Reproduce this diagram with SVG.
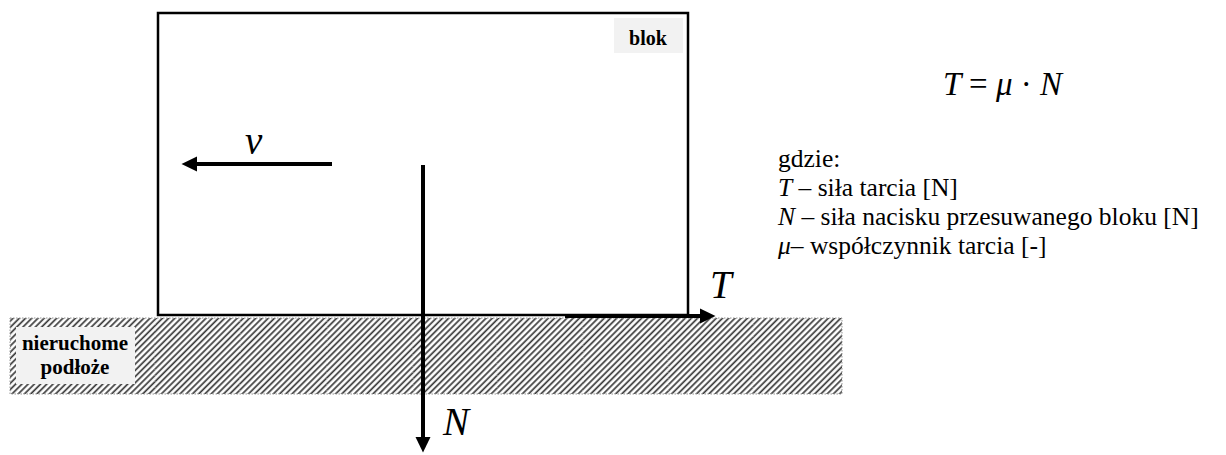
<svg xmlns="http://www.w3.org/2000/svg" width="1226" height="455" viewBox="0 0 1226 455">
<style>
text{font-family:"Times New Roman","Liberation Serif",serif;fill:#000}
.lbl{font-weight:bold}
.math{font-style:italic}
.txt{font-size:25.5px}
.it{font-style:italic}
.arr{stroke:#000;stroke-width:4;fill:none}
</style>
<defs>
<pattern id="hatch" width="4.4" height="4.4" patternUnits="userSpaceOnUse" patternTransform="rotate(45)">
<rect width="4.4" height="4.4" fill="#fff"/>
<line x1="1.1" y1="0" x2="1.1" y2="4.4" stroke="#3a3a3a" stroke-width="1.7"/>
</pattern>
<marker id="ah" markerUnits="userSpaceOnUse" markerWidth="16" markerHeight="16" viewBox="0 0 16 16" refX="1" refY="8" orient="auto">
<path d="M0,0.5 L15.5,8 L0,15.5 z" fill="#000"/>
</marker>
</defs>
<rect width="1226" height="455" fill="#fff"/>
<g id="ground">
<rect x="10" y="318" width="832" height="76" fill="url(#hatch)" stroke="#999" stroke-width="1" stroke-dasharray="1.5 1.5"/>
<g stroke="#ddd" stroke-width="1" stroke-dasharray="1 2" opacity="0.6">
<line x1="155" y1="318" x2="155" y2="394"/><line x1="240" y1="318" x2="240" y2="394"/>
<line x1="327" y1="318" x2="327" y2="394"/><line x1="413" y1="318" x2="413" y2="394"/>
<line x1="497" y1="318" x2="497" y2="394"/><line x1="583" y1="318" x2="583" y2="394"/>
<line x1="668" y1="318" x2="668" y2="394"/><line x1="753" y1="318" x2="753" y2="394"/>
</g>
<rect x="16" y="327" width="119" height="57" fill="#f2f2f2"/>
<text class="lbl" font-size="21" text-anchor="middle" x="75" y="350">nieruchome</text>
<text class="lbl" font-size="21" text-anchor="middle" x="75" y="374">podłoże</text>
</g>
<g id="block">
<rect x="158" y="13" width="530" height="302" fill="none" stroke="#000" stroke-width="2.5"/>
<rect x="614" y="18" width="69" height="35" fill="#f2f2f2"/>
<text class="lbl" font-size="20" text-anchor="middle" x="648" y="45">blok</text>
</g>
<g id="connectors">
<line class="arr" x1="332" y1="164" x2="196" y2="164" marker-end="url(#ah)"/>
<line class="arr" x1="423" y1="165" x2="423" y2="438" marker-end="url(#ah)"/>
<line class="arr" x1="565" y1="316" x2="701" y2="316" marker-end="url(#ah)"/>
</g>
<g id="labels">
<text class="math" font-size="39" x="245" y="154">v</text>
<text class="math" font-size="39" x="443" y="435">N</text>
<text class="math" font-size="39" x="710" y="298">T</text>
</g>
<g id="formula">
<text class="math" font-size="33" x="943" y="95" xml:space="preserve">T <tspan font-style="normal">=</tspan> μ <tspan font-style="normal">·</tspan> N</text>
</g>
<g id="legend">
<text class="txt" x="778" y="167">gdzie:</text>
<text class="txt" x="778" y="196"><tspan class="it">T</tspan> – siła tarcia [N]</text>
<text class="txt" x="778" y="225"><tspan class="it">N</tspan> – siła nacisku przesuwanego bloku [N]</text>
<text class="txt" x="778" y="254"><tspan class="it">μ</tspan>– współczynnik tarcia [-]</text>
</g>
</svg>
